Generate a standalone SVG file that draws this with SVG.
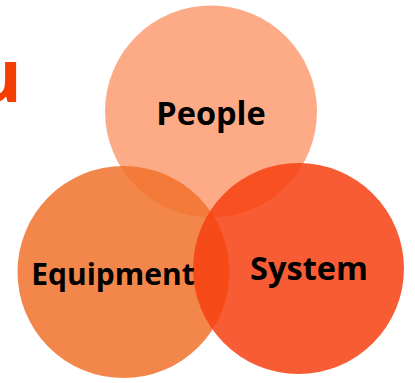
<svg xmlns="http://www.w3.org/2000/svg" width="415" height="383" viewBox="0 0 415 383">
<style>
.c{opacity:0.85}
.t{font-family:"Open Sans","Noto Sans","DejaVu Sans",sans-serif;font-weight:bold;fill:#000;text-anchor:middle}
</style>
<rect width="415" height="383" fill="#fff"/>
<text x="22" y="102" style="font-family:'Open Sans','Noto Sans',sans-serif;font-weight:bold;font-size:74px;fill:#F53D00;text-anchor:end">u</text>
<g id="people"><circle class="c" cx="211" cy="111.5" r="106" fill="#FD9C71"/></g>
<g id="equipment"><circle class="c" cx="123.5" cy="272" r="106" fill="#F1712A"/></g>
<g id="system"><circle class="c" cx="298.5" cy="268.5" r="105.5" fill="#F73F11"/></g>
<g id="connectors"></g>
<g id="labels">
<text class="t" x="211" y="125" font-size="32.5">People</text>
<text class="t" x="113" y="285" font-size="30">Equipment</text>
<text class="t" x="309" y="280" font-size="32.5">System</text>
</g>
</svg>
